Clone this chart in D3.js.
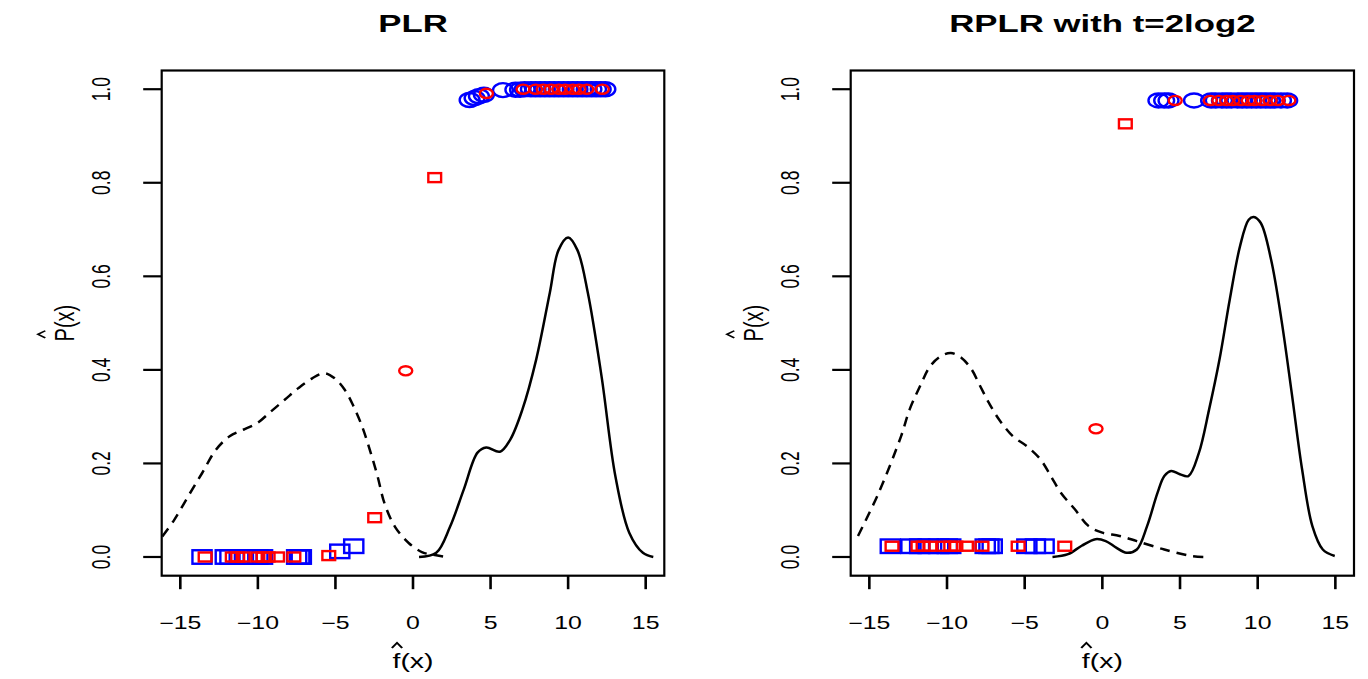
<!DOCTYPE html>
<html>
<head>
<meta charset="utf-8">
<script src="https://cdn.jsdelivr.net/npm/d3@7"></script>
<style>
  body { margin: 0; background: #fff; }
  svg { display: block; }
</style>
</head>
<body>
<div id="chart"></div>
<script>
// ---- axis ticks / titles ----
var xTicks = [-15, -10, -5, 0, 5, 10, 15];
var xTickLabels = ["\u221215", "\u221210", "\u22125", "0", "5", "10", "15"];
var yTicks = [0, 0.2, 0.4, 0.6, 0.8, 1.0];
var yTickLabels = ["0.0", "0.2", "0.4", "0.6", "0.8", "1.0"];
var panelTitles = ["PLR", "RPLR with t=2log2"];

// ---- PLR panel ----
// density of f(x), class +1 (solid)
var plrSolidF = [0.39, 1.5, 2.38, 3.27, 4.16, 4.72, 5.6, 6.27, 7.05, 7.94, 8.82, 9.38, 10.0, 10.6, 11.27, 12.16, 13.05, 13.94, 14.82, 15.49];
var plrSolidP = [0.0, 0.009, 0.064, 0.144, 0.223, 0.234, 0.225, 0.251, 0.315, 0.422, 0.565, 0.656, 0.683, 0.656, 0.565, 0.385, 0.172, 0.052, 0.009, 0.0];
// density of f(x), class -1 (dashed)
var plrDashF = [-16.16, -15.38, -14.49, -13.6, -12.71, -11.82, -10.94, -10.05, -9.16, -8.27, -7.39, -6.5, -5.72, -5.05, -4.39, -3.83, -3.28, -2.72, -2.28, -1.84, -1.17, -0.28, 0.61, 1.27, 1.94];
var plrDashP = [0.044, 0.08, 0.13, 0.179, 0.229, 0.258, 0.272, 0.286, 0.311, 0.336, 0.361, 0.382, 0.393, 0.382, 0.357, 0.322, 0.279, 0.222, 0.172, 0.115, 0.065, 0.03, 0.01, 0.005, 0.001];
// points
var plrBlueCircF = [3.65, 3.97, 4.25, 4.57, 5.8, 6.6, 6.9, 7.2, 7.6, 7.9, 8.2, 8.5, 8.8, 9.1, 9.4, 9.7, 10.0, 10.3, 10.6, 10.9, 11.2, 11.5, 11.8, 12.1, 12.4];
var plrBlueCircP = [0.977, 0.981, 0.985, 0.988, 0.998, 0.999, 0.999, 1.0, 1.0, 1.0, 1.0, 1.0, 1.0, 1.0, 1.0, 1.0, 1.0, 1.0, 1.0, 1.0, 1.0, 1.0, 1.0, 1.0, 1.0];
var plrRedCircF = [-0.47, 4.73, 7.1, 7.9, 8.4, 8.9, 9.4, 9.8, 10.3, 10.7, 11.2, 12.2];
var plrRedCircP = [0.398, 0.991, 1.0, 1.0, 1.0, 1.0, 1.0, 1.0, 1.0, 1.0, 1.0, 1.0];
var plrBlueSqF = [-13.6, -12.1, -11.8, -11.2, -10.7, -10.3, -10.0, -9.7, -7.5, -7.3, -7.2, -4.72, -3.82];
var plrBlueSqP = [0.0, 0.0, 0.0, 0.0, 0.0, 0.0, 0.0, 0.0, 0.0, 0.0, 0.0, 0.012, 0.023];
var plrRedSqF = [-13.4, -11.65, -11.3, -10.95, -10.0, -9.66, -9.34, -8.73, -7.68, -5.43, -2.47, 1.4];
var plrRedSqP = [0.0, 0.0, 0.0, 0.0, 0.0, 0.0, 0.0, 0.0, 0.0, 0.003, 0.084, 0.811];

// ---- RPLR panel ----
var rplrSolidF = [-3.21, -2.21, -1.33, -0.44, 0.22, 0.89, 1.55, 2.22, 2.88, 3.55, 3.99, 4.43, 4.99, 5.54, 6.21, 6.87, 7.54, 8.2, 8.86, 9.42, 9.75, 10.2, 10.86, 11.53, 12.19, 12.86, 13.52, 14.19, 14.96];
var rplrSolidP = [0.0, 0.006, 0.024, 0.038, 0.034, 0.02, 0.009, 0.016, 0.066, 0.137, 0.173, 0.184, 0.177, 0.173, 0.222, 0.315, 0.422, 0.55, 0.664, 0.721, 0.727, 0.714, 0.636, 0.507, 0.351, 0.187, 0.066, 0.016, 0.002];
var rplrDashF = [-15.73, -14.4, -12.96, -12.41, -11.74, -11.08, -10.41, -9.75, -9.08, -8.42, -7.86, -7.31, -6.65, -5.76, -4.87, -3.99, -3.32, -2.66, -1.77, -0.88, 0.0, 1.11, 2.22, 3.99, 5.76, 6.65];
var rplrDashP = [0.045, 0.137, 0.258, 0.315, 0.365, 0.408, 0.429, 0.436, 0.426, 0.401, 0.365, 0.33, 0.294, 0.258, 0.237, 0.209, 0.173, 0.137, 0.102, 0.066, 0.052, 0.045, 0.034, 0.016, 0.002, 0.0];
var rplrBlueCircF = [3.61, 3.98, 4.26, 5.9, 7.0, 7.3, 7.7, 8.0, 8.3, 8.7, 9.0, 9.3, 9.6, 9.9, 10.2, 10.5, 10.8, 11.1, 11.5, 11.9];
var rplrBlueCircP = [0.976, 0.976, 0.976, 0.976, 0.976, 0.976, 0.976, 0.976, 0.976, 0.976, 0.976, 0.976, 0.976, 0.976, 0.976, 0.976, 0.976, 0.976, 0.976, 0.976];
var rplrRedCircF = [-0.41, 4.69, 6.95, 7.5, 8.0, 8.4, 8.9, 9.4, 9.8, 10.3, 10.8, 11.3, 12.0];
var rplrRedCircP = [0.274, 0.976, 0.976, 0.976, 0.976, 0.976, 0.976, 0.976, 0.976, 0.976, 0.976, 0.976, 0.976];
var rplrBlueSqF = [-13.65, -12.32, -11.76, -11.21, -10.54, -9.98, -9.76, -7.54, -7.3, -7.09, -4.86, -4.31, -3.75];
var rplrBlueSqP = [0.023, 0.023, 0.023, 0.023, 0.023, 0.023, 0.023, 0.023, 0.023, 0.023, 0.023, 0.023, 0.023];
var rplrRedSqF = [-13.54, -11.87, -11.54, -11.1, -10.21, -9.76, -9.43, -8.75, -7.75, -5.42, -2.42, 1.48];
var rplrRedSqP = [0.023, 0.023, 0.023, 0.023, 0.023, 0.023, 0.023, 0.023, 0.023, 0.023, 0.023, 0.926];

var panels = [
  { solidF: plrSolidF, solidP: plrSolidP, dashF: plrDashF, dashP: plrDashP,
    bcF: plrBlueCircF, bcP: plrBlueCircP, rcF: plrRedCircF, rcP: plrRedCircP,
    bsF: plrBlueSqF, bsP: plrBlueSqP, rsF: plrRedSqF, rsP: plrRedSqP },
  { solidF: rplrSolidF, solidP: rplrSolidP, dashF: rplrDashF, dashP: rplrDashP,
    bcF: rplrBlueCircF, bcP: rplrBlueCircP, rcF: rplrRedCircF, rcP: rplrRedCircP,
    bsF: rplrBlueSqF, bsP: rplrBlueSqP, rsF: rplrRedSqF, rsP: rplrRedSqP }
];

// ---- layout ----
var W = 1368, H = 679;
var SX = 1.42;               // the figure is stretched horizontally
var boxX = [[161.7, 664.3], [850.7, 1354]];
var boxTop = 70.5, boxBottom = 575.7;
var FONT = "'Liberation Sans', Arial, Helvetica, sans-serif";
var BLUE = "#0000ff", RED = "#ff0000";

var svg = d3.select("#chart").append("svg")
  .attr("width", W).attr("height", H)
  .style("background", "#fff")
  .style("font-family", FONT);

function sText(g, x, y, str, size, rotate) {
  return g.append("text")
    .attr("transform", "translate(" + x + "," + y + ") scale(" + SX + ",1)" + (rotate ? " rotate(-90)" : ""))
    .attr("text-anchor", "middle")
    .attr("font-size", size)
    .attr("fill", "#000")
    .text(str);
}

// axis label with a hat over its first letter (drawn as strokes, like plotmath hat())
function hatLabel(g, x, y, str, size, rotate) {
  var grp = g.append("g")
    .attr("transform", "translate(" + x + "," + y + ") scale(" + SX + ",1)" + (rotate ? " rotate(-90)" : ""));
  var t = grp.append("text").attr("text-anchor", "middle")
    .attr("font-size", size).attr("fill", "#000").text(str);
  var ext = t.node().getExtentOfChar(0);
  var hx = ext.x + ext.width / 2 + 0.4, hw = 3.6;
  var top = -size * 1.26, foot = -size * 1.0;
  grp.append("path")
    .attr("d", "M" + (hx - hw) + "," + foot + "L" + hx + "," + top + "L" + (hx + hw) + "," + foot)
    .attr("fill", "none").attr("stroke", "#000").attr("stroke-width", 1.5);
}

panels.forEach(function (pd, i) {
  var x = d3.scaleLinear().domain([-16.2, 16.2]).range(boxX[i]);
  var y = d3.scaleLinear().domain([-0.04, 1.04]).range([boxBottom, boxTop]);
  var g = svg.append("g");
  var cx = (boxX[i][0] + boxX[i][1]) / 2;

  // curves
  var line = d3.line()
    .x(function (d) { return x(d[0]); })
    .y(function (d) { return y(d[1]); })
    .curve(d3.curveCatmullRom.alpha(0.5));
  g.append("path")
    .datum(d3.zip(pd.dashF, pd.dashP))
    .attr("d", line)
    .attr("fill", "none").attr("stroke", "#000")
    .attr("stroke-width", 2.5).attr("stroke-dasharray", "10,7");
  g.append("path")
    .datum(d3.zip(pd.solidF, pd.solidP))
    .attr("d", line)
    .attr("fill", "none").attr("stroke", "#000")
    .attr("stroke-width", 2.5);

  // points: blue (larger) below red (smaller)
  function squares(fs, ps, col, h) {
    var w = h * SX;
    g.selectAll(null).data(d3.zip(fs, ps)).enter().append("rect")
      .attr("x", function (d) { return x(d[0]) - w / 2; })
      .attr("y", function (d) { return y(d[1]) - h / 2; })
      .attr("width", w).attr("height", h)
      .attr("fill", "none").attr("stroke", col).attr("stroke-width", 2.4);
  }
  function circles(fs, ps, col, r) {
    g.selectAll(null).data(d3.zip(fs, ps)).enter().append("ellipse")
      .attr("cx", function (d) { return x(d[0]); })
      .attr("cy", function (d) { return y(d[1]); })
      .attr("rx", r * SX).attr("ry", r)
      .attr("fill", "none").attr("stroke", col).attr("stroke-width", 2.4);
  }
  squares(pd.bsF, pd.bsP, BLUE, 13.5);
  circles(pd.bcF, pd.bcP, BLUE, 7);
  squares(pd.rsF, pd.rsP, RED, 9);
  circles(pd.rcF, pd.rcP, RED, 4.6);

  // box
  g.append("rect")
    .attr("x", boxX[i][0]).attr("y", boxTop)
    .attr("width", boxX[i][1] - boxX[i][0]).attr("height", boxBottom - boxTop)
    .attr("fill", "none").attr("stroke", "#000").attr("stroke-width", 2.2);

  // x axis
  xTicks.forEach(function (t, k) {
    g.append("line")
      .attr("x1", x(t)).attr("x2", x(t))
      .attr("y1", boxBottom).attr("y2", boxBottom + 13.5)
      .attr("stroke", "#000").attr("stroke-width", 2.6);
    sText(g, x(t), 629, xTickLabels[k], 17.5);
  });
  // y axis
  yTicks.forEach(function (t, k) {
    g.append("line")
      .attr("x1", boxX[i][0] - 18.5).attr("x2", boxX[i][0])
      .attr("y1", y(t)).attr("y2", y(t))
      .attr("stroke", "#000").attr("stroke-width", 2.2);
    sText(g, boxX[i][0] - 52, y(t), yTickLabels[k], 17.5, true);
  });

  // titles
  sText(g, cx, 32, panelTitles[i], 24.5).attr("font-weight", "bold");
  hatLabel(g, cx, 668, "f(x)", 20, false);
  hatLabel(g, boxX[i][0] - 88, (boxTop + boxBottom) / 2, "P(x)", 20, true);
});
</script>
</body>
</html>
